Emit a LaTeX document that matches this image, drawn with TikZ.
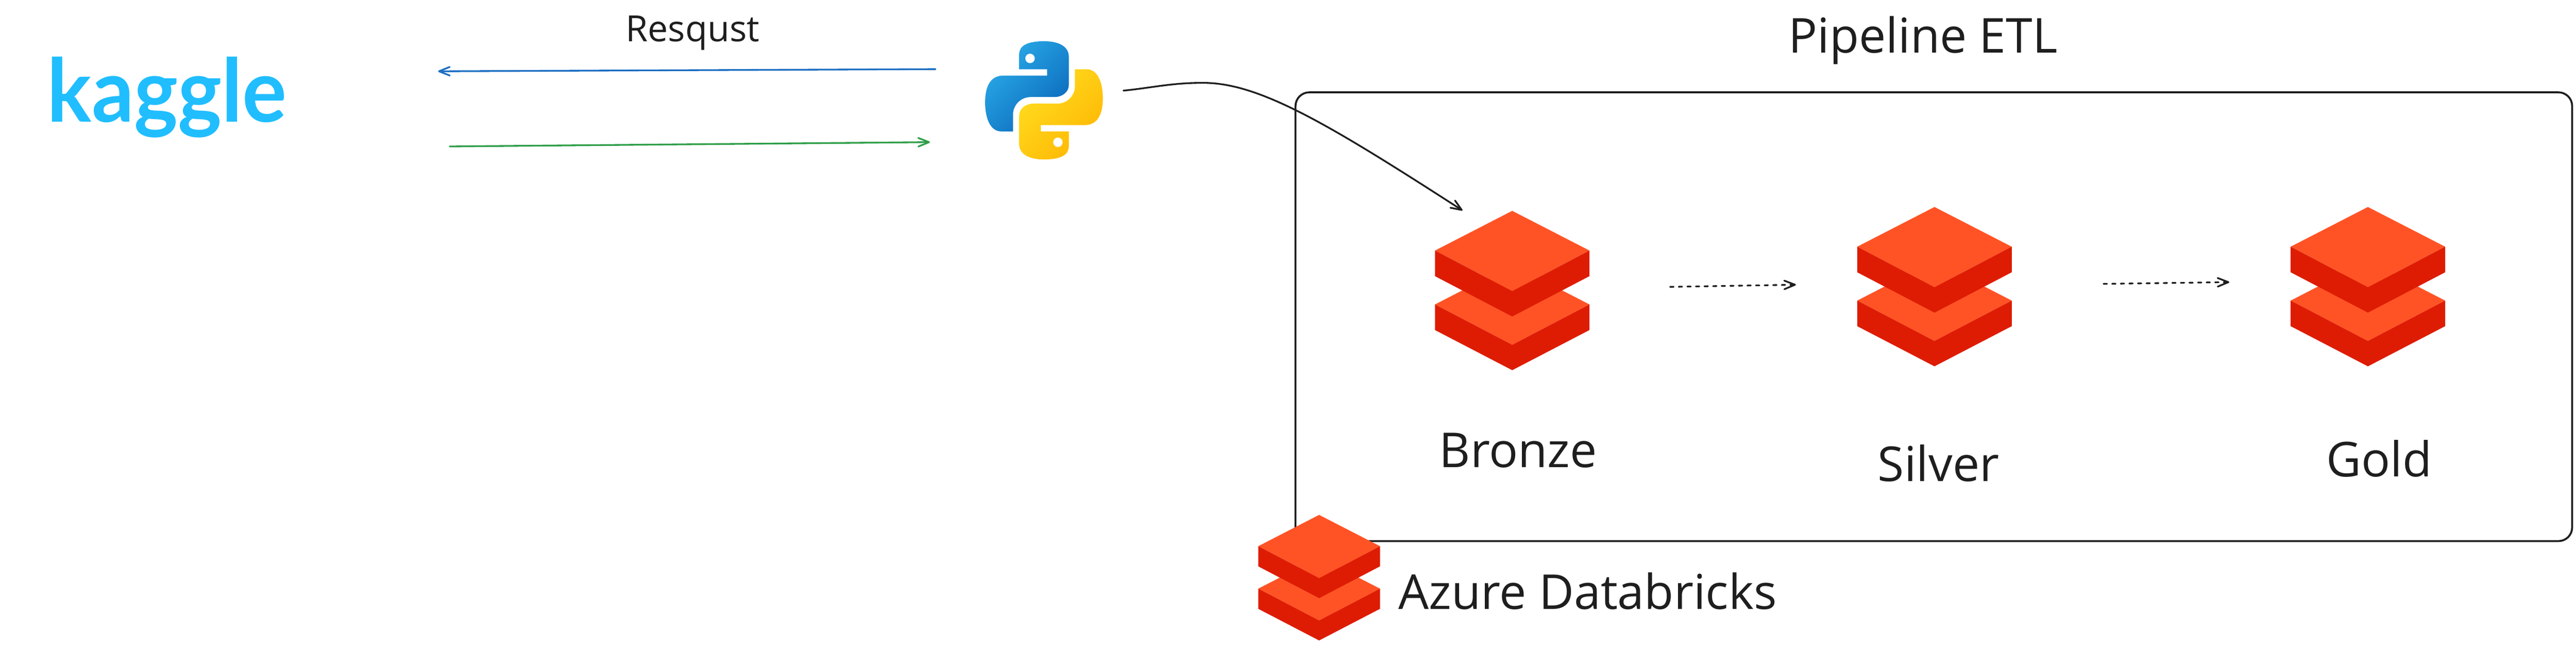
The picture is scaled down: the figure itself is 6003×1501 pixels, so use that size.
\documentclass[tikz,border=0pt]{standalone}
\usepackage{fontspec}
\setmainfont{Open Sans}
\newfontfamily\kagglefont[FakeStretch=0.95]{Lato Bold}
\usetikzlibrary{arrows.meta}
\definecolor{ink}{HTML}{1E1E1E}
\definecolor{dblight}{HTML}{FF5326}
\definecolor{dbdark}{HTML}{DE1C04}
\definecolor{kaggleblue}{HTML}{20BEFF}
\definecolor{reqblue}{HTML}{1B6EC2}
\definecolor{respgreen}{HTML}{2E9E48}
\definecolor{pyblueA}{HTML}{2AABE8}
\definecolor{pyblueB}{HTML}{0B69BC}
\definecolor{pyyelA}{HTML}{FFDD20}
\definecolor{pyyelB}{HTML}{FFB703}
\tikzset{
  lbl/.style={inner sep=0pt,outer sep=0pt,anchor=base west,text=ink,font=\fontsize{112}{134}\selectfont},
  conn/.style={line width=4pt,line cap=round},
  barb/.style={-{Straight Barb[length=25pt,width=20pt,line width=4pt,round]}},
  dbstack/.pic={
    \fill[dblight] (-180,218) -- (0,125.5) -- (180,218) -- (0,312) -- cycle;
    \fill[dbdark] (-180,218) -- (-180,277.5) -- (0,371) -- (180,277.5) -- (180,218) -- (0,312) -- cycle;
    \fill[dblight] (-180,92.5) -- (0,0) -- (180,92.5) -- (0,187) -- cycle;
    \fill[dbdark] (-180,92.5) -- (-180,152) -- (0,246) -- (180,152) -- (180,92.5) -- (0,187) -- cycle;
  }
}
\begin{document}
\begin{tikzpicture}[x=1pt,y=-1pt]
\useasboundingbox (0,0) rectangle (6003,1501);
\fill[white] (0,0) rectangle (6003,1501);

% pipeline frame
\draw[ink,line width=4.5pt,rounded corners=32pt] (3019,215) rectangle (5994,1260);

% kaggle logotype
\node[inner sep=0pt,anchor=base west,text=kaggleblue,font=\kagglefont\fontsize{204}{240}\selectfont] (kaggle) at (110,284) {kaggle};

% python logo
\begin{scope}[shift={(2250,60)},x=0.3333pt,y=-0.3333pt]
  \path[shading=axis,top color=pyblueA,bottom color=pyblueB,shading angle=45]
    (332,738) -- (250,738) .. controls (170,738) and (137,640) .. (137,535)
    .. controls (137,430) and (170,348) .. (265,348) -- (570,348) -- (570,304) -- (375,304) -- (375,200)
    .. controls (375,140) and (430,108) .. (550,108) .. controls (660,108) and (722,150) .. (722,215)
    -- (722,415) .. controls (722,460) and (680,498) .. (620,498) -- (455,498)
    .. controls (385,498) and (332,555) .. (332,620) -- cycle;
  \fill[white] (451,228) circle (33);
  \path[shading=axis,top color=pyyelA,bottom color=pyyelB,shading angle=45]
    (765,304) -- (847,304) .. controls (927,304) and (960,402) .. (960,507)
    .. controls (960,612) and (927,694) .. (832,694) -- (527,694) -- (527,738) -- (722,738) -- (722,842)
    .. controls (722,902) and (667,934) .. (547,934) .. controls (437,934) and (375,892) .. (375,827)
    -- (375,627) .. controls (375,582) and (417,544) .. (477,544) -- (642,544)
    .. controls (712,544) and (765,487) .. (765,422) -- cycle;
  \fill[white] (646,814) circle (33);
\end{scope}

% layer icons
\pic (bronzeicon) at (3524,491) {dbstack};
\pic (silvericon) at (4508,482) {dbstack};
\pic (goldicon) at (5518,482) {dbstack};
\pic[scale=0.788] (azureicon) at (3074,1199) {dbstack};

% labels
\node[lbl,font=\fontsize{84}{100}\selectfont] (resqust) at (1458,97) {Resqust};
\node[lbl] (pipeline) at (4168,123) {Pipeline ETL};
\node[lbl] (bronze) at (3354,1088) {Bronze};
\node[lbl] (silver) at (4376,1121) {Silver};
\node[lbl] (gold) at (5421,1110) {Gold};
\node[lbl] (azure) at (3259,1418) {Azure Databricks};

% connector ends
\coordinate (reqstart) at (2180,161);
\coordinate (reqend) at (1021,166);
\coordinate (respstart) at (1048,341);
\coordinate (respend) at (2167,331);
\coordinate (pystart) at (2618,211);
\coordinate (pypeak) at (2798,193);
\coordinate (bronzein) at (3408,490);
\coordinate (bsstart) at (3892,668);
\coordinate (bsend) at (4185,663);
\coordinate (sgstart) at (4902,661);
\coordinate (sgend) at (5195,657);

% connectors
\draw[conn,reqblue,barb] (reqstart) -- (reqend);
\draw[conn,respgreen,barb] (respstart) -- (respend);
\draw[conn,ink,barb] (pystart) .. controls (2680,205) and (2730,193) .. (pypeak)
   .. controls (2930,190) and (3090,285) .. (bronzein);
\draw[conn,ink,barb,dash pattern=on 8pt off 12pt] (bsstart) -- (bsend);
\draw[conn,ink,barb,dash pattern=on 8pt off 12pt] (sgstart) -- (sgend);
\end{tikzpicture}
\end{document}
